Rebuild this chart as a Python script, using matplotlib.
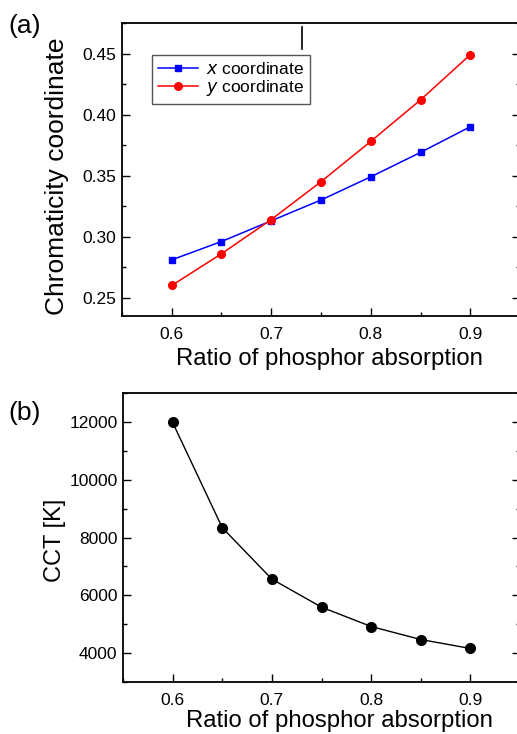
import matplotlib
matplotlib.use("Agg")
import matplotlib.pyplot as plt
from matplotlib.lines import Line2D
from matplotlib.ticker import MultipleLocator

plt.rcParams['font.family'] = ['Liberation Sans', 'DejaVu Sans']

# data
ratio = [0.6, 0.65, 0.7, 0.75, 0.8, 0.85, 0.9]
x_coord = [0.281, 0.296, 0.313, 0.330, 0.349, 0.369, 0.390]
y_coord = [0.260, 0.286, 0.314, 0.345, 0.378, 0.412, 0.449]
cct = [11980, 8340, 6560, 5590, 4920, 4470, 4160]

fig = plt.figure(figsize=(5.17, 7.34), dpi=100)
W, H = 517, 734

def place(left, top, right, bottom):
    return [left / W, 1 - bottom / H, (right - left) / W, (bottom - top) / H]

ax1 = fig.add_axes(place(122, 23, 520, 316))
ax2 = fig.add_axes(place(123, 393, 520, 682))

ax1.plot(ratio, x_coord, color='#0000ff', marker='s', markersize=5, lw=1.1,
         label=r'$\it{x}$ coordinate')
ax1.plot(ratio, y_coord, color='#ff0000', marker='o', markersize=5.5, lw=1.1,
         label=r'$\it{y}$ coordinate')
ax1.set_xlim(0.55, 0.95)
ax1.set_ylim(0.235, 0.475)
ax1.yaxis.set_major_locator(MultipleLocator(0.05))
ax1.yaxis.set_minor_locator(MultipleLocator(0.025))
ax1.set_ylabel('Chromaticity coordinate', fontsize=19, labelpad=10)
ax1.yaxis.label.set_y(0.476)
leg = ax1.legend(loc='upper left', bbox_to_anchor=(0.075, 0.891), fontsize=12.5,
                 fancybox=False, edgecolor='#555555', framealpha=1,
                 borderaxespad=0, handlelength=2.3, handletextpad=0.45,
                 borderpad=0.35, labelspacing=0.05)
leg.get_frame().set_linewidth(1.0)

ax2.plot(ratio, cct, color='black', marker='o', markersize=7, lw=1.0)
ax2.set_xlim(0.55, 0.95)
ax2.set_ylim(3000, 13000)
ax2.yaxis.set_major_locator(MultipleLocator(2000))
ax2.yaxis.set_minor_locator(MultipleLocator(1000))
ax2.set_ylabel('CCT [K]', fontsize=17, labelpad=2)
ax2.yaxis.label.set_y(0.49)

for ax, lx, lp in ((ax1, 0.52, 4), (ax2, 0.545, 1)):
    ax.xaxis.set_major_locator(MultipleLocator(0.1))
    ax.xaxis.set_minor_locator(MultipleLocator(0.05))
    ax.set_xlabel('Ratio of phosphor absorption', fontsize=17.2, labelpad=lp)
    ax.xaxis.label.set_x(lx)
    ax.tick_params(which='both', direction='in', top=False, right=True,
                   labelsize=12.5, width=1.0)
    ax.tick_params(which='major', length=6)
    ax.tick_params(axis='x', which='major', pad=8)
    ax.tick_params(axis='y', which='major', pad=4)
    ax.tick_params(which='minor', length=3)
    for s in ax.spines.values():
        s.set_linewidth(1.3)

fig.text(8 / W, 1 - 26 / H, '(a)', fontsize=19, va='center', ha='left')
fig.text(8 / W, 1 - 413 / H, '(b)', fontsize=19, va='center', ha='left')

# stray mark above the legend in the original
fig.add_artist(Line2D([301.5 / W, 301.5 / W], [1 - 27 / H, 1 - 49 / H],
                      color='black', lw=1.2))

fig.savefig('out.png', dpi=100)
